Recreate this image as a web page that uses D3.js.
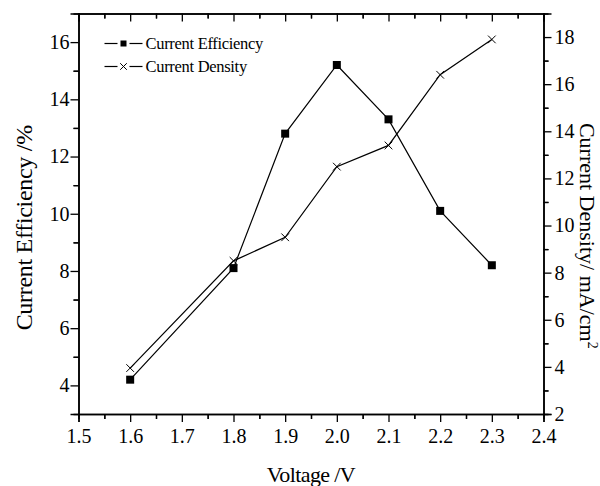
<!DOCTYPE html>
<html>
<head>
<meta charset="utf-8">
<script src="https://cdn.jsdelivr.net/npm/d3@7"></script>
<style>
  body { margin: 0; background: #fff; }
  text { font-family: "Liberation Serif", "Times New Roman", serif; fill: #000; }
</style>
</head>
<body>
<div id="chart"></div>
<script>
// data
var voltage = [1.6, 1.8, 1.9, 2.0, 2.1, 2.2, 2.3];
var efficiency = [4.2, 8.1, 12.8, 15.2, 13.3, 10.1, 8.2];
var density = [3.95, 8.5, 9.5, 12.5, 13.4, 16.4, 17.9];
var xTicks = [1.5, 1.6, 1.7, 1.8, 1.9, 2.0, 2.1, 2.2, 2.3, 2.4];
var leftTicks = [4, 6, 8, 10, 12, 14, 16];
var rightTicks = [2, 4, 6, 8, 10, 12, 14, 16, 18];

var margin = { top: 13.5, right: 56.5, bottom: 72, left: 78.5 },
  width = 600 - margin.left - margin.right,
  height = 486 - margin.top - margin.bottom;

var svg = d3
  .select("#chart")
  .append("svg")
  .attr("width", 600)
  .attr("height", 486)
  .append("g")
  .attr("transform", "translate(" + margin.left + "," + margin.top + ")");

var x = d3.scaleLinear().domain([1.5, 2.4]).range([0, width]);
var yL = d3.scaleLinear().domain([3, 17]).range([height, 0]);
var yR = d3.scaleLinear().domain([2, 19]).range([height, 0]);

// minor ticks halfway between majors
function minors(ticks, step) {
  var out = [];
  ticks.forEach(function (t) { out.push(t + step / 2); out.push(t - step / 2); });
  return out;
}

function styleAxis(g) {
  g.select(".domain").attr("stroke", "#000").attr("stroke-width", 1.5);
  g.selectAll(".tick line").attr("stroke", "#000").attr("stroke-width", 1.3);
  g.selectAll("text").style("font-size", "20px").attr("font-family", "Liberation Serif");
}

// minor tick layers
var xMinor = minors(xTicks, 0.1).filter(function (d) { return d > 1.5 && d < 2.4; });
svg.append("g")
  .attr("transform", "translate(0," + height + ")")
  .call(d3.axisBottom(x).tickValues(xMinor).tickSize(5).tickFormat(""))
  .call(styleAxis);
svg.append("g")
  .call(d3.axisTop(x).tickValues(xMinor).tickSize(-5).tickFormat(""))
  .call(styleAxis);
svg.append("g")
  .call(d3.axisLeft(yL).tickValues(minors(leftTicks, 2).filter(function (d) { return d > 3 && d < 17; })).tickSize(5).tickFormat(""))
  .call(styleAxis);
svg.append("g")
  .attr("transform", "translate(" + width + ",0)")
  .call(d3.axisRight(yR).tickValues(minors(rightTicks, 2).filter(function (d) { return d > 2 && d < 19; })).tickSize(5).tickFormat(""))
  .call(styleAxis);

// major axes
svg.append("g")
  .attr("transform", "translate(0," + height + ")")
  .call(d3.axisBottom(x).tickValues(xTicks).tickSize(8).tickPadding(7).tickFormat(d3.format(".1f")))
  .call(styleAxis);
svg.append("g")
  .call(d3.axisTop(x).tickValues(xTicks).tickSize(-8).tickFormat(""))
  .call(styleAxis);
svg.append("g")
  .call(d3.axisLeft(yL).tickValues(leftTicks).tickSize(8).tickPadding(1))
  .call(styleAxis);
svg.append("g")
  .attr("transform", "translate(" + width + ",0)")
  .call(d3.axisRight(yR).tickValues(rightTicks).tickSize(8).tickPadding(3))
  .call(styleAxis);

// lines
var effLine = d3.line()
  .x(function (d, i) { return x(voltage[i]); })
  .y(function (d) { return yL(d); });
var denLine = d3.line()
  .x(function (d, i) { return x(voltage[i]); })
  .y(function (d) { return yR(d); });

svg.append("path")
  .datum(efficiency)
  .attr("d", effLine)
  .attr("fill", "none")
  .attr("stroke", "#000")
  .attr("stroke-width", 1.2);
svg.append("path")
  .datum(density)
  .attr("d", denLine)
  .attr("fill", "none")
  .attr("stroke", "#000")
  .attr("stroke-width", 1.2);

// square markers
svg.selectAll(".sq")
  .data(efficiency)
  .enter()
  .append("rect")
  .attr("class", "sq")
  .attr("x", function (d, i) { return x(voltage[i]) - 4; })
  .attr("y", function (d) { return yL(d) - 4; })
  .attr("width", 8)
  .attr("height", 8)
  .attr("fill", "#000");

// cross markers
var cross = d3.symbol().type(d3.symbolX).size(40);
svg.selectAll(".cx")
  .data(density)
  .enter()
  .append("path")
  .attr("class", "cx")
  .attr("d", cross)
  .attr("transform", function (d, i) { return "translate(" + x(voltage[i]) + "," + yR(d) + ")"; })
  .attr("fill", "none")
  .attr("stroke", "#000")
  .attr("stroke-width", 1);

// legend: short line, marker, short line
var legend = svg.append("g").attr("transform", "translate(26,30)");
var legendItems = ["Current Efficiency", "Current Density"];
legendItems.forEach(function (name, i) {
  var g = legend.append("g").attr("transform", "translate(0," + i * 23 + ")");
  g.append("line").attr("x1", 0).attr("x2", 13).attr("y1", 0).attr("y2", 0)
    .attr("stroke", "#000").attr("stroke-width", 1.2);
  g.append("line").attr("x1", 25).attr("x2", 38).attr("y1", 0).attr("y2", 0)
    .attr("stroke", "#000").attr("stroke-width", 1.2);
  if (i === 0) {
    g.append("rect").attr("x", 16).attr("y", -3).attr("width", 6).attr("height", 6).attr("fill", "#000");
  } else {
    g.append("path").attr("d", d3.symbol().type(d3.symbolX).size(30)).attr("transform", "translate(19,0)")
      .attr("fill", "none").attr("stroke", "#000").attr("stroke-width", 1);
  }
  g.append("text").attr("x", 41).attr("y", 5.5)
    .style("font-size", "16.5px").style("letter-spacing", "-0.3px")
    .text(name);
});

// axis titles
svg.append("text")
  .attr("x", width / 2)
  .attr("y", height + 68)
  .attr("text-anchor", "middle")
  .style("font-size", "22px")
  .style("letter-spacing", "-0.6px")
  .text("Voltage /V");

svg.append("text")
  .attr("transform", "translate(-47," + (height / 2 + 14) + ") rotate(-90)")
  .attr("text-anchor", "middle")
  .style("font-size", "24px")
  .style("letter-spacing", "-0.3px")
  .text("Current Efficiency /%");

var rt = svg.append("text")
  .attr("transform", "translate(" + (width + 36) + "," + (height / 2 + 22) + ") rotate(90)")
  .attr("text-anchor", "middle")
  .style("font-size", "22px");
rt.append("tspan").text("Current Density/ mA/cm");
rt.append("tspan").attr("dy", -8).style("font-size", "14px").text("2");
</script>
</body>
</html>
